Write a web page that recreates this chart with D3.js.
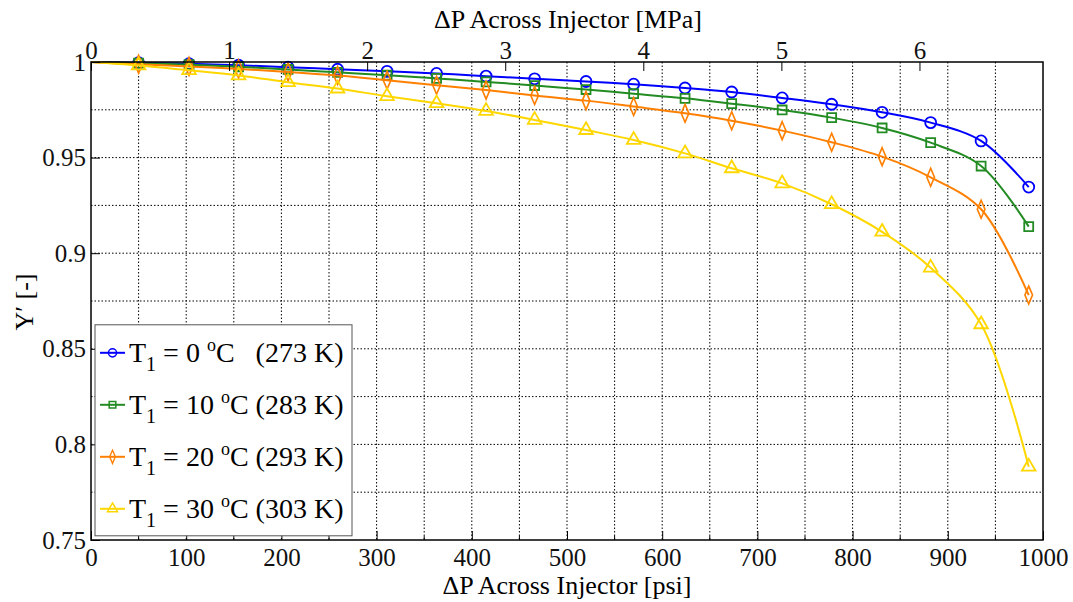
<!DOCTYPE html>
<html>
<head>
<meta charset="utf-8">
<script src="https://cdn.jsdelivr.net/npm/d3@7"></script>
</head>
<body style="margin:0">
<svg width="1073" height="602" style="font-family: 'Liberation Serif'"></svg>
<script>
// pressure drop across injector, psi (marker positions)
var dpPsi = [0, 50, 103, 155, 207, 259, 311, 363, 415, 466, 520, 570, 624, 673, 726, 778, 831, 882, 935, 985];

// Y' for each inlet temperature
var y0C  = [1, 0.9996, 0.9991, 0.9983, 0.9973, 0.9962, 0.9951, 0.9940, 0.9926, 0.9912, 0.9898, 0.9884, 0.9864, 0.9843, 0.9812, 0.9779, 0.9737, 0.9683, 0.9587, 0.9346];
var y10C = [1, 0.9994, 0.9986, 0.9975, 0.9961, 0.9946, 0.9931, 0.9914, 0.9896, 0.9877, 0.9856, 0.9834, 0.9810, 0.9782, 0.9749, 0.9709, 0.9655, 0.9578, 0.9456, 0.9139];
var y20C = [1, 0.9988, 0.9977, 0.9964, 0.9948, 0.9929, 0.9905, 0.9878, 0.9853, 0.9825, 0.9798, 0.9767, 0.9732, 0.9693, 0.9641, 0.9580, 0.9505, 0.9397, 0.9230, 0.8781];
var y30C = [1, 0.9982, 0.9957, 0.9930, 0.9894, 0.9861, 0.9821, 0.9784, 0.9744, 0.9697, 0.9644, 0.9592, 0.9522, 0.9444, 0.9365, 0.9256, 0.9112, 0.8924, 0.8628, 0.7883];

var tempC = ["0", "10", "20", "30"];
var tempK = ["273", "283", "293", "303"];

var xTicks = [0, 100, 200, 300, 400, 500, 600, 700, 800, 900, 1000];
var yTicks = [0.75, 0.8, 0.85, 0.9, 0.95, 1];
var mpaTicks = [0, 1, 2, 3, 4, 5, 6];
var PSI_PER_MPA = 145.038;

var series = [
  {vals: y0C,  color: "#0000ff", sym: "circle"},
  {vals: y10C, color: "#228b22", sym: "square"},
  {vals: y20C, color: "#ff8000", sym: "diamond"},
  {vals: y30C, color: "#ffd700", sym: "triangle"}
];

var svg = d3.select("svg"),
    W = +svg.attr("width"), H = +svg.attr("height"),
    m = {top: 62, right: 30, bottom: 62, left: 91},
    w = W - m.left - m.right,
    h = H - m.top - m.bottom;

var x = d3.scaleLinear().domain([0, 1000]).range([0, w]);
var y = d3.scaleLinear().domain([0.75, 1]).range([h, 0]);

var g = svg.append("g").attr("transform", "translate(" + m.left + "," + m.top + ")");

// dotted grid on major + minor ticks
var gridX = d3.range(50, 1000, 50), gridY = d3.range(0.775, 1, 0.025);
g.append("g").selectAll("line").data(gridX).enter().append("line")
  .attr("x1", d => x(d)).attr("x2", d => x(d)).attr("y1", 0).attr("y2", h)
  .attr("stroke", "#000").attr("stroke-width", 1).attr("stroke-dasharray", "1.5,2");
g.append("g").selectAll("line").data(gridY).enter().append("line")
  .attr("x1", 0).attr("x2", w).attr("y1", d => y(d)).attr("y2", d => y(d))
  .attr("stroke", "#000").attr("stroke-width", 1).attr("stroke-dasharray", "1.5,2");

// curves
var line = d3.line()
  .x((d, i) => x(dpPsi[i]))
  .y(d => y(d))
  .curve(d3.curveCatmullRom.alpha(0.5));

var symType = {circle: d3.symbolCircle, square: d3.symbolSquare, diamond: d3.symbolDiamond, triangle: d3.symbolTriangle};
var symSize = {circle: 95, square: 80, diamond: 70, triangle: 80};

series.forEach(function(s) {
  g.append("path").attr("d", line(s.vals))
    .attr("fill", "none").attr("stroke", s.color).attr("stroke-width", 2);
  g.append("g").selectAll("path").data(s.vals.slice(1)).enter().append("path")
    .attr("transform", (d, i) => "translate(" + x(dpPsi[i + 1]) + "," + y(d) + ")" + (s.sym == "diamond" ? " scale(0.85,1.15)" : ""))
    .attr("d", d3.symbol().type(symType[s.sym]).size(symSize[s.sym]))
    .attr("fill", "none").attr("stroke", s.color).attr("stroke-width", 1.8);
});

// box
g.append("rect").attr("width", w).attr("height", h)
  .attr("fill", "none").attr("stroke", "#000").attr("stroke-width", 1.5);

// bottom axis (psi)
var xAxis = g.append("g").attr("transform", "translate(0," + h + ")")
  .call(d3.axisBottom(x).tickValues(xTicks).tickFormat(d3.format("d")).tickSizeInner(-9).tickSizeOuter(0).tickPadding(8));
xAxis.select(".domain").remove();
g.append("g").selectAll("line").data(gridX.filter(d => d % 100)).enter().append("line")
  .attr("x1", d => x(d)).attr("x2", d => x(d)).attr("y1", h).attr("y2", h - 4)
  .attr("stroke", "#000");

// left axis
var yAxis = g.append("g")
  .call(d3.axisLeft(y).tickValues(yTicks).tickFormat(d3.format("")).tickSizeInner(-9).tickSizeOuter(0).tickPadding(5));
yAxis.select(".domain").remove();

// top axis (MPa)
var xm = d3.scaleLinear().domain([0, 1000 / PSI_PER_MPA]).range([0, w]);
var topAxis = g.append("g")
  .call(d3.axisTop(xm).tickValues(mpaTicks).tickFormat(d3.format("d")).tickSizeInner(-9).tickSizeOuter(0).tickPadding(3));
topAxis.select(".domain").remove();

// tick labels inherit the root font
[xAxis, yAxis, topAxis].forEach(function(a) {
  a.attr("font-family", null).attr("font-size", null);
  a.selectAll("text").attr("font-size", 25).attr("fill", "#111");
});

// axis titles
svg.append("text").attr("x", m.left + w / 2).attr("y", 594)
  .attr("text-anchor", "middle").attr("font-size", 26)
  .text("ΔP Across Injector [psi]");
svg.append("text").attr("x", m.left + w / 2 + 1).attr("y", 28)
  .attr("text-anchor", "middle").attr("font-size", 26)
  .text("ΔP Across Injector [MPa]");
svg.append("text").attr("transform", "translate(33,302) rotate(-90)")
  .attr("text-anchor", "middle").attr("font-size", 26)
  .text("Y′ [-]");

// legend
var lg = g.append("g").attr("transform", "translate(4," + (y(0.85) - 24) + ")");
lg.append("rect").attr("width", 257).attr("height", 211)
  .attr("fill", "#fff").attr("stroke", "#555").attr("stroke-width", 1);

series.forEach(function(s, i) {
  var row = lg.append("g").attr("transform", "translate(0," + (28 + i * 52) + ")");
  row.append("line").attr("x1", 5).attr("x2", 30).attr("y1", 0).attr("y2", 0)
    .attr("stroke", s.color).attr("stroke-width", 2);
  row.append("path").attr("transform", "translate(17.5,0)" + (s.sym == "diamond" ? " scale(0.85,1.15)" : ""))
    .attr("d", d3.symbol().type(symType[s.sym]).size(symSize[s.sym] * 0.55))
    .attr("fill", "none").attr("stroke", s.color).attr("stroke-width", 1.5);
  var t = row.append("text").attr("x", 34).attr("y", 9).attr("font-size", 28);
  t.append("tspan").text("T");
  t.append("tspan").attr("dy", 9).attr("font-size", 20).text("1");
  t.append("tspan").attr("dy", -9).text(" = " + tempC[i] + " ");
  t.append("tspan").attr("dy", -11).attr("font-size", 18).text("o");
  t.append("tspan").attr("dy", 11).text("C " + (tempC[i].length == 1 ? "\u2002" : "") + "(" + tempK[i] + " K)");
});
</script>
</body>
</html>
